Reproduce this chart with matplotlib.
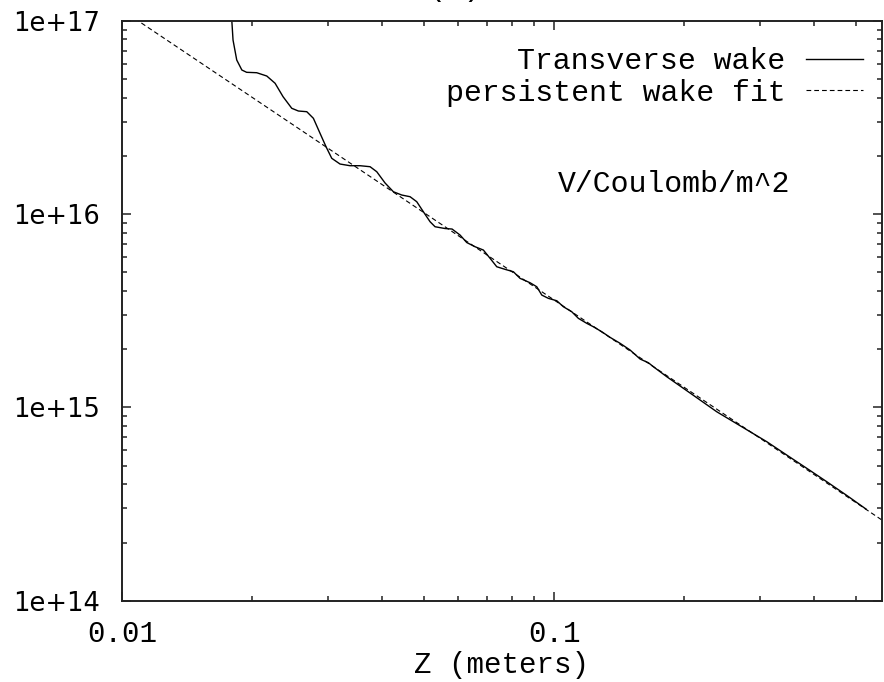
import numpy as np
import matplotlib
matplotlib.use("Agg")
import matplotlib.pyplot as plt
from matplotlib.ticker import FixedLocator, FixedFormatter, LogLocator, NullFormatter

# Transverse wake potential vs. distance behind the bunch
z_wake = [0.01786, 0.01807, 0.01843, 0.01894, 0.01943, 0.02050, 0.02163, 0.02261,
          0.02359, 0.02471, 0.02560, 0.02677, 0.02773, 0.02873, 0.02966, 0.03058,
          0.03196, 0.03371, 0.03556, 0.03751, 0.03887, 0.04063, 0.04247, 0.04441,
          0.04642, 0.04810, 0.04982, 0.05164, 0.05303, 0.05593, 0.05806, 0.06059,
          0.06279, 0.06563, 0.06860, 0.07110, 0.07368, 0.07701, 0.08050, 0.08342,
          0.08799, 0.09119, 0.09366, 0.09701, 0.10145, 0.10508, 0.10988, 0.11382,
          0.11903, 0.12329, 0.12894, 0.13477, 0.14216, 0.14995, 0.15817, 0.16533,
          0.16979, 0.18234, 0.19925, 0.21776, 0.23797, 0.26013, 0.28432, 0.31079,
          0.34560, 0.38460, 0.42783, 0.47600, 0.52749]
w_wake = [1.206e17, 7.945e16, 6.263e16, 5.558e16, 5.408e16, 5.382e16, 5.175e16, 4.746e16,
          4.045e16, 3.523e16, 3.411e16, 3.383e16, 3.127e16, 2.615e16, 2.230e16, 1.942e16,
          1.814e16, 1.778e16, 1.778e16, 1.757e16, 1.655e16, 1.447e16, 1.304e16, 1.254e16,
          1.229e16, 1.158e16, 1.028e16, 9.124e15, 8.596e15, 8.414e15, 8.364e15, 7.786e15,
          7.121e15, 6.774e15, 6.513e15, 5.901e15, 5.337e15, 5.175e15, 5.029e15, 4.648e15,
          4.411e15, 4.205e15, 3.809e15, 3.663e15, 3.560e15, 3.315e15, 3.123e15, 2.887e15,
          2.720e15, 2.612e15, 2.461e15, 2.302e15, 2.144e15, 1.979e15, 1.778e15, 1.701e15,
          1.622e15, 1.440e15, 1.254e15, 1.091e15, 9.489e14, 8.424e14, 7.478e14, 6.638e14,
          5.665e14, 4.835e14, 4.122e14, 3.500e14, 2.975e14]

# Persistent wake fit: W(z) = A * z**p
fit_amplitude = 1.136e14
fit_exponent = -1.5
z_fit_range = [0.01, 0.574]

x_ticks = [0.01, 0.1]
x_tick_labels = ["0.01", "0.1"]
y_ticks = [1e14, 1e15, 1e16, 1e17]
y_tick_labels = ["1e+14", "1e+15", "1e+16", "1e+17"]

MONO = "Liberation Mono"
plt.rcParams["lines.scale_dashes"] = False

W, H = 884, 682
fig = plt.figure(figsize=(W / 100, H / 100), dpi=100)
ax = fig.add_axes([122 / W, 1 - 600.7 / H, (882 - 122) / W, (600.7 - 20.7) / H])

z_fit = np.array(z_fit_range)
w_fit = fit_amplitude * z_fit ** fit_exponent

ax.plot(z_wake, w_wake, color="black", lw=1.0, label="Transverse wake")
ax.plot(z_fit, w_fit, color="black", lw=0.8, linestyle=(0, (3.4, 2.2)),
        label="persistent wake fit")

ax.set_xscale("log")
ax.set_yscale("log")
ax.set_xlim(0.01, 0.574)
ax.set_ylim(1e14, 1e17)

ax.xaxis.set_major_locator(FixedLocator(x_ticks))
ax.xaxis.set_major_formatter(FixedFormatter(x_tick_labels))
ax.yaxis.set_major_locator(FixedLocator(y_ticks))
ax.yaxis.set_major_formatter(FixedFormatter(y_tick_labels))
ax.xaxis.set_minor_locator(LogLocator(base=10, subs=np.arange(2, 10)))
ax.yaxis.set_minor_locator(LogLocator(base=10, subs=np.arange(2, 10)))
ax.xaxis.set_minor_formatter(NullFormatter())
ax.yaxis.set_minor_formatter(NullFormatter())

ax.tick_params(which="both", direction="in", top=True, right=True, color="#222222",
               width=1.1)
ax.tick_params(which="major", length=6.5)
ax.tick_params(which="minor", length=3.5)
ax.tick_params(axis="x", which="major", pad=14)
ax.tick_params(axis="y", which="major", pad=16)
for lab in ax.get_xticklabels():
    lab.set_fontfamily(MONO)
    lab.set_fontsize(21)
for lab in ax.get_yticklabels():
    lab.set_fontfamily("DejaVu Sans")
    lab.set_fontsize(18.5)

for sp in ax.spines.values():
    sp.set_linewidth(1.4)
    sp.set_color("#222222")

ax.set_xlabel("Z (meters)", fontfamily=MONO, fontsize=21, labelpad=2)

leg = ax.legend(loc="upper right", bbox_to_anchor=(863 / W, 1 - 47 / H),
                bbox_transform=fig.transFigure, frameon=False, markerfirst=False,
                prop={"family": MONO, "size": 21.5}, handlelength=1.9,
                handletextpad=0.7, labelspacing=0.12, borderpad=0, borderaxespad=0)

fig.text(790 / W, 1 - 192 / H, "V/Coulomb/m^2", ha="right", va="baseline",
         fontfamily=MONO, fontsize=21.5)

fig.text(455 / W, 1 + 4 / H, "(a)", ha="center", va="baseline",
         fontfamily=MONO, fontsize=21.5)

fig.savefig("out.png", dpi=100)
